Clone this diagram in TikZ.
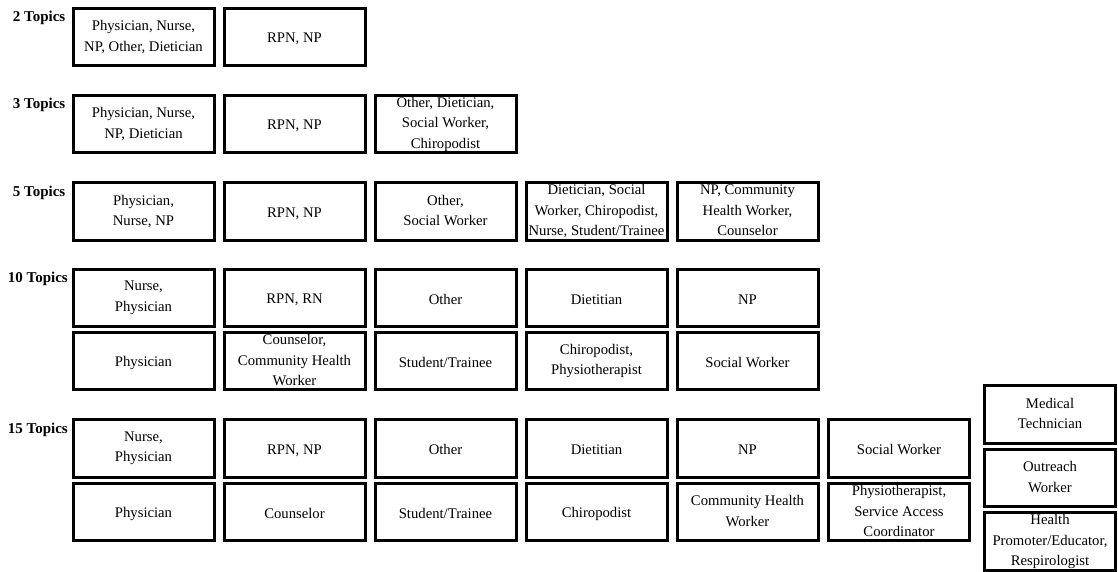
\documentclass[tikz,border=0pt]{standalone}
\usepackage{fontspec}
\setmainfont{Liberation Serif}
\tikzset{
  rolebox/.style={rectangle, draw=black, line width=3pt, minimum width=141pt, minimum height=57.5pt, inner sep=0pt, align=center, font=\fontsize{14.7}{20.5}\selectfont,
    execute at begin node={\rule{0pt}{14pt}}, execute at end node={\rule[-2pt]{0pt}{2pt}}},
  narrowbox/.style={rolebox, minimum width=131pt},
  rowlabel/.style={anchor=base east, inner sep=0pt, font=\fontsize{15}{18}\selectfont\bfseries}
}

\begin{document}
\begin{tikzpicture}[x=1pt, y=-1pt]
  \useasboundingbox (0,0) rectangle (1118,572);

  % 2 topics
  \node[rowlabel] (lab2) at (65.5,22) {2 Topics};
  \node[rolebox] (t2a) at (143.5,37) {Physician, Nurse,\\NP, Other, Dietician};
  \node[rolebox] (t2b) at (294.5,37) {RPN, NP};

  % 3 topics
  \node[rowlabel] (lab3) at (65.5,109) {3 Topics};
  \node[rolebox] (t3a) at (143.5,124) {Physician, Nurse,\\NP, Dietician};
  \node[rolebox] (t3b) at (294.5,124) {RPN, NP};
  \node[rolebox] (t3c) at (445.5,124) {Other, Dietician,\\Social Worker,\\Chiropodist};

  % 5 topics
  \node[rowlabel] (lab5) at (65.5,196.5) {5 Topics};
  \node[rolebox] (t5a) at (143.5,211.5) {Physician,\\Nurse, NP};
  \node[rolebox] (t5b) at (294.5,211.5) {RPN, NP};
  \node[rolebox] (t5c) at (445.5,211.5) {Other,\\Social Worker};
  \node[rolebox] (t5d) at (596.5,211.5) {Dietician, Social\\Worker, Chiropodist,\\Nurse, Student/Trainee};
  \node[rolebox] (t5e) at (747.5,211.5) {NP, Community\\Health Worker,\\Counselor};

  % 10 topics
  \node[rowlabel] (lab10) at (68,282.5) {10 Topics};
  \node[rolebox] (t10a) at (143.5,298) {Nurse,\\Physician};
  \node[rolebox] (t10b) at (294.5,298) {RPN, RN};
  \node[rolebox] (t10c) at (445.5,298) {Other};
  \node[rolebox] (t10d) at (596.5,298) {Dietitian};
  \node[rolebox] (t10e) at (747.5,298) {NP};
  \node[rolebox] (t10f) at (143.5,361) {Physician};
  \node[rolebox] (t10g) at (294.5,361) {Counselor,\\Community Health\\Worker};
  \node[rolebox] (t10h) at (445.5,361) {Student/Trainee};
  \node[rolebox] (t10i) at (596.5,361) {Chiropodist,\\Physiotherapist};
  \node[rolebox] (t10j) at (747.5,361) {Social Worker};

  % 15 topics
  \node[rowlabel] (lab15) at (68,433) {15 Topics};
  \node[rolebox] (t15a) at (143.5,448.5) {Nurse,\\Physician};
  \node[rolebox] (t15b) at (294.5,448.5) {RPN, NP};
  \node[rolebox] (t15c) at (445.5,448.5) {Other};
  \node[rolebox] (t15d) at (596.5,448.5) {Dietitian};
  \node[rolebox] (t15e) at (747.5,448.5) {NP};
  \node[rolebox] (t15f) at (899,448.5) {Social Worker};
  \node[rolebox] (t15g) at (143.5,512) {Physician};
  \node[rolebox] (t15h) at (294.5,512) {Counselor};
  \node[rolebox] (t15i) at (445.5,512) {Student/Trainee};
  \node[rolebox] (t15j) at (596.5,512) {Chiropodist};
  \node[rolebox] (t15k) at (747.5,512) {Community Health\\Worker};
  \node[rolebox] (t15l) at (899,512) {Physiotherapist,\\Service Access\\Coordinator};
  \node[narrowbox] (t15m) at (1050,414.5) {Medical\\Technician};
  \node[narrowbox] (t15n) at (1050,478) {Outreach\\Worker};
  \node[narrowbox] (t15o) at (1050,541.5) {Health\\Promoter/Educator,\\Respirologist};
\end{tikzpicture}
\end{document}
